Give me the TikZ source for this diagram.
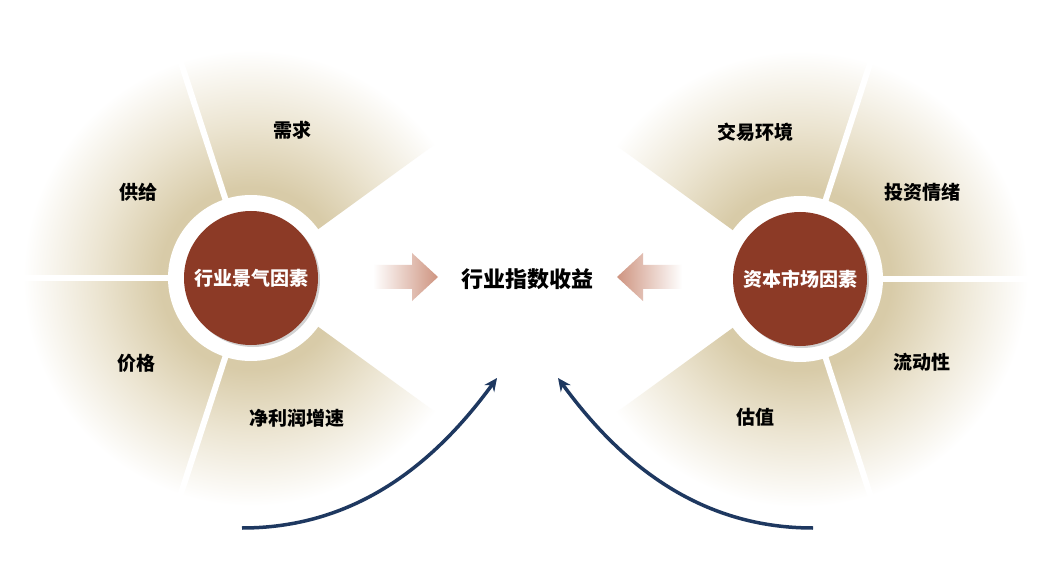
\documentclass[tikz,border=0pt]{standalone}
\usepackage{fontspec}
\newfontfamily\cjk{Noto Sans CJK SC}
\usetikzlibrary{shadows,arrows.meta}
\definecolor{fantan}{RGB}{216,203,168}
\definecolor{fanmid}{RGB}{236,229,210}
\definecolor{coreRed}{RGB}{140,58,38}
\definecolor{arrowRose}{RGB}{206,148,128}
\definecolor{navy}{RGB}{30,56,96}
\pgfdeclareradialshading{fanshade}{\pgfpoint{0bp}{0bp}}{color(0bp)=(fantan); color(10bp)=(fantan); color(17bp)=(fanmid); color(25bp)=(white); color(50bp)=(white)}
\tikzset{
  core/.style={circle, fill=coreRed, minimum size=134pt, inner sep=0pt, text=white,
    font=\cjk\bfseries\fontsize{19}{19}\selectfont,
    drop shadow={shadow xshift=2pt, shadow yshift=-2pt, opacity=0.35}},
  lab/.style={text=black, inner sep=0pt, font=\cjk\bfseries\fontsize{19}{19}\selectfont},
  centerlab/.style={text=black, inner sep=0pt, font=\cjk\bfseries\fontsize{22}{22}\selectfont},
  gap/.style={white, line width=6pt},
  curv/.style={navy, line width=3.5pt, -{Stealth[length=13pt,width=12pt]}},
}
\begin{document}
\begin{tikzpicture}[x=1pt,y=-1pt]
\useasboundingbox[fill=white] (0,0) rectangle (1041,561);
\coordinate (Lc) at (251,278);
\coordinate (Rc) at (800,279);
% left fan
\begin{scope}
  \clip (Lc) -- ++(36:228) arc[start angle=36,end angle=324,radius=228] -- cycle;
  \shade[shading=fanshade] (Lc) circle[radius=228];
\end{scope}
\foreach \a in {108,180,252} \draw[gap] (Lc) -- ++(\a:232);
% right fan
\begin{scope}
  \clip (Rc) -- ++(144:228) arc[start angle=144,end angle=-144,radius=228] -- cycle;
  \shade[shading=fanshade] (Rc) circle[radius=228];
\end{scope}
\foreach \a in {72,0,-72} \draw[gap] (Rc) -- ++(\a:232);
% rings
\fill[white] (Lc) circle[radius=83];
\fill[white] (Rc) circle[radius=83];
\node[core] (L) at (Lc) {行业景气因素};
\node[core] (R) at (Rc) {资本市场因素};
% labels
\node[lab] (l1) at (292,130) {需求};
\node[lab] (l2) at (138,192) {供给};
\node[lab] (l3) at (136,363) {价格};
\node[lab] (l4) at (297,418) {净利润增速};
\node[lab] (r1) at (755,132) {交易环境};
\node[lab] (r2) at (922,192) {投资情绪};
\node[lab] (r3) at (922,362) {流动性};
\node[lab] (r4) at (755,417) {估值};
\node[centerlab] (C) at (527,279) {行业指数收益};
% block arrows
\shade[left color=white, right color=arrowRose]
  (373,265) -- (412,265) -- (412,253) -- (438,277) -- (412,301) -- (412,289) -- (373,289) -- cycle;
\shade[left color=arrowRose, right color=white]
  (682,265) -- (643,265) -- (643,253) -- (617,277) -- (643,301) -- (643,289) -- (682,289) -- cycle;
% curved arrows
\coordinate (la0) at (242,528);
\coordinate (la1) at (497,378);
\coordinate (ra0) at (813,528);
\coordinate (ra1) at (558,378);
\draw[curv] (la0) .. controls (350,528) and (430,470) .. (la1);
\draw[curv] (ra0) .. controls (705,528) and (625,470) .. (ra1);
\end{tikzpicture}
\end{document}
